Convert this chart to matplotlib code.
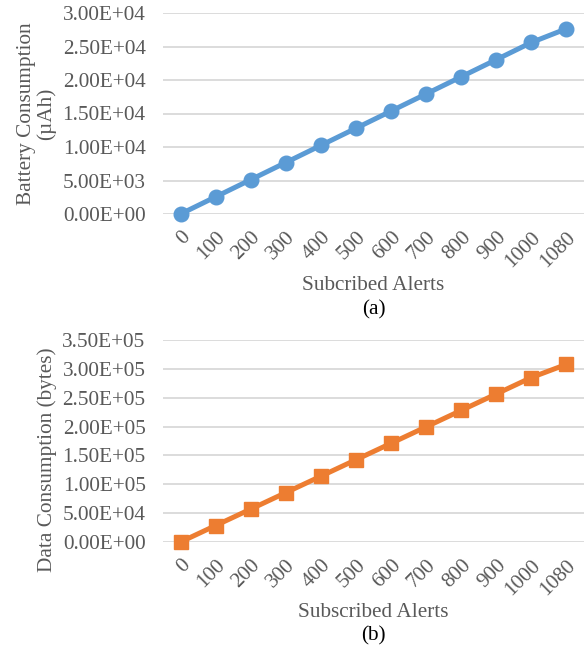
import matplotlib.pyplot as plt

alerts = ["0", "100", "200", "300", "400", "500", "600", "700", "800", "900", "1000", "1080"]
battery_uah = [0, 2560, 5120, 7680, 10240, 12800, 15360, 17920, 20480, 23040, 25600, 27650]
data_bytes = [0, 28500, 57000, 85500, 114000, 142500, 171000, 199500, 228000, 256500, 285000, 307800]

plt.rcParams["font.family"] = ["Liberation Serif", "DejaVu Serif"]
GRAY = "#595959"
FS = 15.3
W, H = 587, 652

fig = plt.figure(figsize=(W / 100, H / 100), dpi=100)


def px_axes(left, top, right, bottom):
    return fig.add_axes([left / W, 1 - bottom / H, (right - left) / W, (bottom - top) / H])


def style(ax, ymax, step, fmt):
    ax.set_xlim(-0.5, len(alerts) - 0.5)
    ax.set_ylim(0, ymax)
    ticks = [i * step for i in range(int(round(ymax / step)) + 1)]
    ax.set_yticks(ticks)
    ax.set_yticklabels([fmt(t) for t in ticks])
    ax.set_xticks(list(range(len(alerts))))
    ax.set_xticklabels(alerts, rotation=45, ha="right", va="top", rotation_mode="anchor")
    for s in ax.spines.values():
        s.set_visible(False)
    ax.tick_params(length=0, labelsize=FS, labelcolor=GRAY)
    ax.tick_params(axis="x", pad=10)
    ax.tick_params(axis="y", pad=12.5)
    ax.grid(axis="y", color="#d9d9d9", linewidth=1.3)
    ax.set_axisbelow(True)


def sci(v):
    return "{:.2E}".format(v)


# (a) battery
ax1 = px_axes(163, 13, 584, 214)
ax1.plot(range(len(alerts)), battery_uah, color="#5b9bd5", linewidth=3.6,
         marker="o", markersize=10.5, clip_on=False)
style(ax1, 30000, 5000, sci)
ax1.text(-0.30, 0.5, "Battery Consumption\n(\u00b5Ah)", transform=ax1.transAxes,
         rotation=90, ha="center", va="center", fontsize=FS, color=GRAY,
         linespacing=1.05)
ax1.text(0.5, -0.355, "Subcribed Alerts", transform=ax1.transAxes, ha="center",
         va="center", fontsize=FS, color=GRAY)
ax1.text(0.5, -0.475, "(a)", transform=ax1.transAxes, ha="center", va="center",
         fontsize=FS, color="black")

# (b) data
ax2 = px_axes(163, 340, 584, 542)
ax2.plot(range(len(alerts)), data_bytes, color="#ed7d31", linewidth=3.6,
         marker="s", markersize=10.5, clip_on=False)
style(ax2, 350000, 50000, sci)
ax2.text(-0.275, 0.406, "Data Consumption (bytes)", transform=ax2.transAxes,
         rotation=90, ha="center", va="center", fontsize=FS, color=GRAY)
ax2.text(0.5, -0.35, "Subscribed Alerts", transform=ax2.transAxes, ha="center",
         va="center", fontsize=FS, color=GRAY)
ax2.text(0.5, -0.465, "(b)", transform=ax2.transAxes, ha="center", va="center",
         fontsize=FS, color="black")

fig.savefig("out.png", dpi=100)
